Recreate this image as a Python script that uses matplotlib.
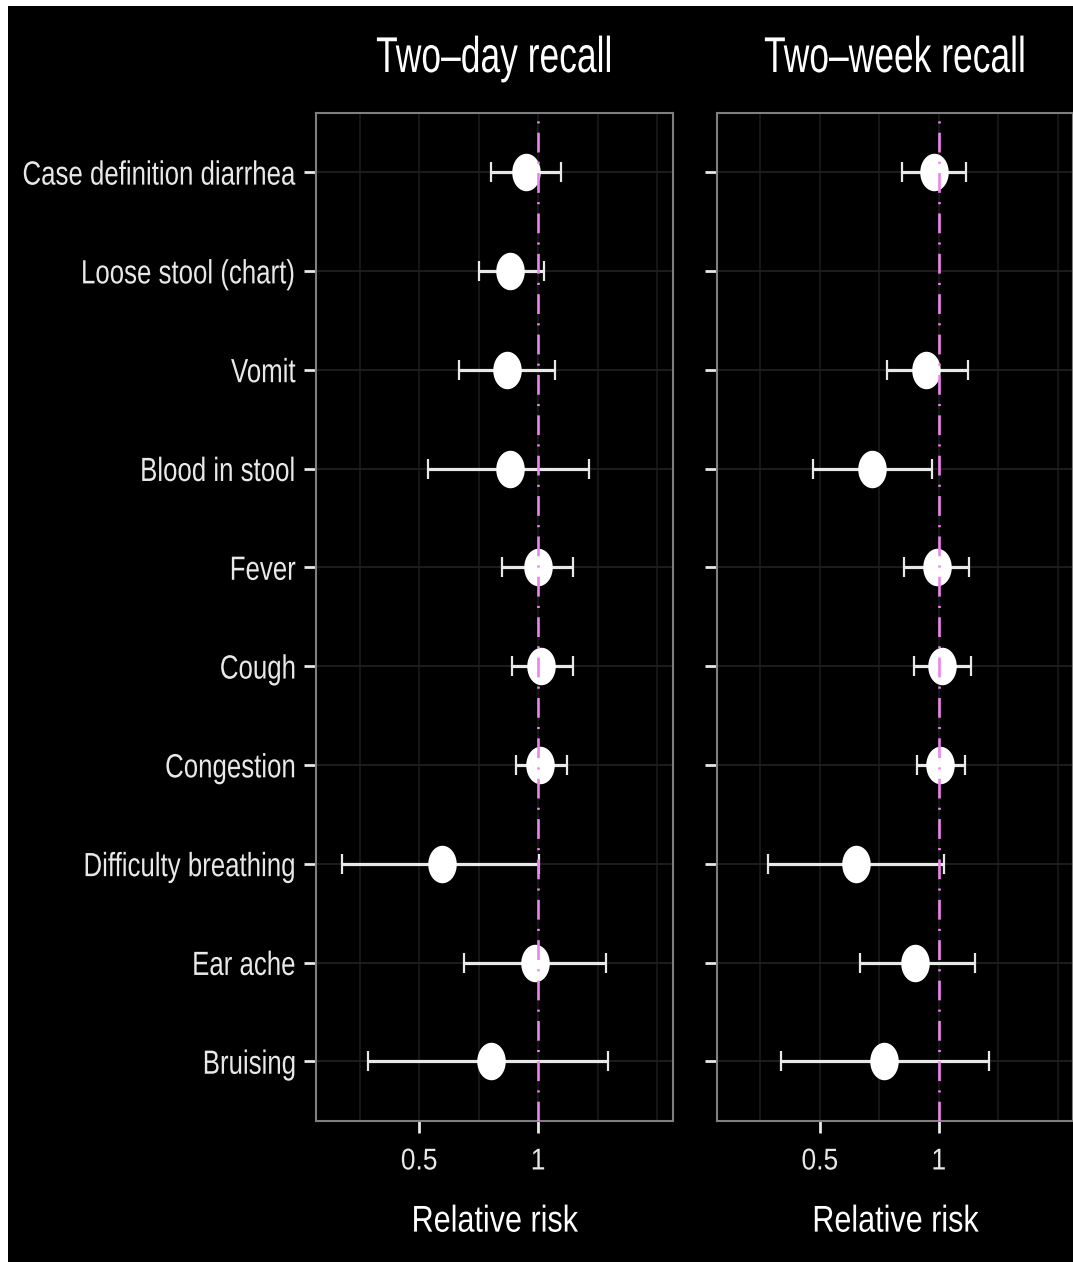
import numpy as np
import matplotlib
matplotlib.use("Agg")
import matplotlib.pyplot as plt
from matplotlib.path import Path
from matplotlib.patches import Rectangle
from matplotlib.patheffects import AbstractPathEffect
from matplotlib.transforms import Affine2D
from matplotlib.textpath import text_to_path
from matplotlib.ticker import FixedLocator, NullFormatter, FixedFormatter

plt.rcParams['font.family'] = ['Liberation Sans', 'DejaVu Sans']

# Symptoms, top to bottom
categories = ["Case definition diarrhea", "Loose stool (chart)", "Vomit",
              "Blood in stool", "Fever", "Cough", "Congestion",
              "Difficulty breathing", "Ear ache", "Bruising"]

panel_titles = ["Two\u2013day recall", "Two\u2013week recall"]

# Relative risk estimates with 95% CI: two-day recall
rr_day = [0.932, 0.850, 0.833, 0.850, 0.998, 1.019, 1.010, 0.571, 0.983, 0.760]
lo_day = [0.760, 0.709, 0.631, 0.528, 0.809, 0.860, 0.881, 0.320, 0.651, 0.371]
hi_day = [1.143, 1.037, 1.104, 1.346, 1.224, 1.228, 1.184, 1.008, 1.483, 1.506]

# Relative risk estimates with 95% CI: two-week recall (no loose-stool chart data)
rr_week = [0.971, np.nan, 0.929, 0.677, 0.988, 1.018, 1.006, 0.619, 0.873, 0.729]
lo_week = [0.808, np.nan, 0.741, 0.481, 0.819, 0.868, 0.882, 0.370, 0.631, 0.398]
hi_week = [1.173, np.nan, 1.183, 0.960, 1.190, 1.207, 1.168, 1.029, 1.238, 1.342]

x_ticks = [0.5, 1]
x_tick_labels = ["0.5", "1"]
x_minor = [2 ** -1.5, 2 ** -0.5, 2 ** 0.5, 2 ** 1.0]


class TallText(AbstractPathEffect):
    """Draw glyphs stretched vertically about a given height (in em)."""

    def __init__(self, sy, anchor_em=0.0):
        super().__init__()
        self.sy = sy
        self.anchor = anchor_em * text_to_path.FONT_SCALE

    def draw_path(self, renderer, gc, tpath, affine, rgbFace=None):
        t = (Affine2D().translate(0, -self.anchor).scale(1, self.sy)
             .translate(0, self.anchor) + affine)
        renderer.draw_path(gc, tpath, t, rgbFace)


CAP = 0.729

W, H = 1073, 1262
fig = plt.figure(figsize=(W / 100, H / 100), dpi=100, facecolor="white")
# black plot canvas with thin white margin on the top and left
fig.patches.append(Rectangle((8 / W, 0), 1, 1 - 6 / H, transform=fig.transFigure,
                             facecolor="black", edgecolor="none", zorder=-10))

# ellipse-shaped point marker
t = np.linspace(0, 2 * np.pi, 80)
ellipse = Path(np.column_stack([0.76 * np.cos(t), np.sin(t)]), closed=True)

ax_w = 356.7 / W
ax_h = 1007.7 / H
ax_b = 1 - 1120.7 / H
lefts = [316 / W, 716.7 / W]
xlim = (2 ** -1.866, 2 ** 1.1315)

ypos = np.arange(len(categories))
datasets = [(rr_day, lo_day, hi_day), (rr_week, lo_week, hi_week)]

fg = "#e8e8e8"
for i, (left, (rr, lo, hi)) in enumerate(zip(lefts, datasets)):
    ax = fig.add_axes([left, ax_b, ax_w, ax_h])
    ax.set_facecolor("black")
    ax.set_xscale("log")
    ax.set_xlim(*xlim)
    ax.set_ylim(len(categories) - 1 + 0.6, -0.6)

    ax.xaxis.set_major_locator(FixedLocator(x_ticks))
    ax.xaxis.set_major_formatter(FixedFormatter(x_tick_labels))
    ax.xaxis.set_minor_locator(FixedLocator(x_minor))
    ax.xaxis.set_minor_formatter(NullFormatter())
    ax.set_yticks(ypos)
    ax.set_yticklabels(categories if i == 0 else [""] * len(categories))

    ax.grid(True, which="both", axis="x", color="#1a1a1a", lw=1.2, zorder=0)
    ax.grid(True, which="major", axis="y", color="#222222", lw=1.2, zorder=0)
    ax.set_axisbelow(True)

    rr = np.asarray(rr, float)
    lo = np.asarray(lo, float)
    hi = np.asarray(hi, float)
    ok = ~np.isnan(rr)
    ax.errorbar(rr[ok], ypos[ok], xerr=[rr[ok] - lo[ok], hi[ok] - rr[ok]],
                fmt="none", ecolor=fg, elinewidth=2.3, capsize=7.2,
                capthick=1.6, zorder=3)
    ax.plot(rr[ok], ypos[ok], linestyle="none", marker=ellipse,
            markersize=27, color="white", markeredgewidth=0, zorder=4)

    ax.axvline(1, color="#ee82ee", lw=1.9, linestyle=(0, (7.5, 3.5, 0.8, 3.5)),
               zorder=5)

    for s in ax.spines.values():
        s.set_color("#7f7f7f")
        s.set_linewidth(1.5)

    ax.tick_params(axis="both", which="major", colors=fg, length=8.5, width=2,
                   labelcolor=fg)
    ax.tick_params(axis="x", which="major", labelsize=19, pad=11)
    ax.tick_params(axis="y", which="major", labelsize=18.6, pad=6)
    ax.tick_params(axis="x", which="minor", length=0)

    for lbl in ax.get_yticklabels():
        lbl.set_path_effects([TallText(1.3, CAP / 2)])
    for lbl in ax.get_xticklabels():
        lbl.set_path_effects([TallText(1.14, CAP)])

    ttl = ax.set_title(panel_titles[i], color="white", fontsize=25.5, pad=29.5)
    ttl.set_path_effects([TallText(1.42, 0.0)])
    xl = ax.set_xlabel("Relative risk", color="white", fontsize=22, labelpad=23)
    xl.set_path_effects([TallText(1.22, CAP)])

fig.savefig("out.png", dpi=100, facecolor=fig.get_facecolor())
